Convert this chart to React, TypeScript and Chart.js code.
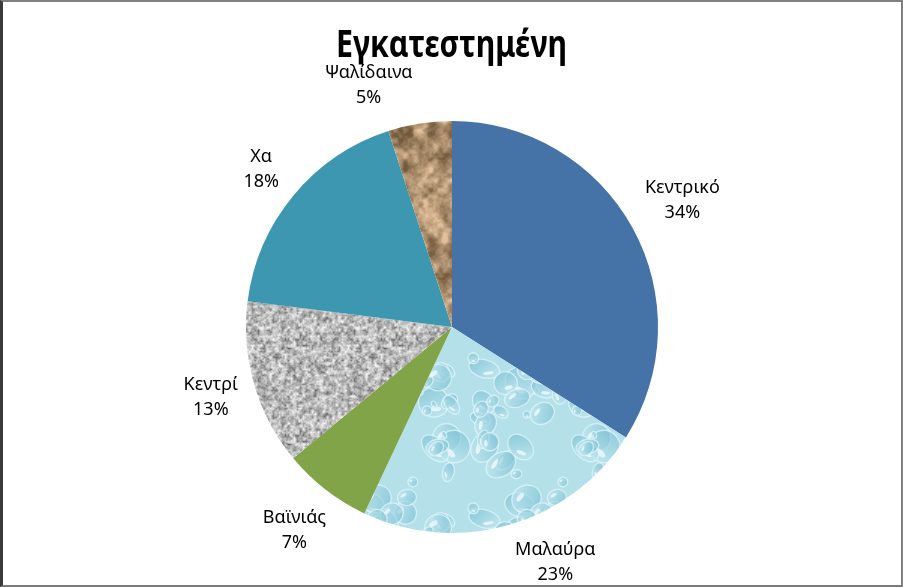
import React, { useEffect, useRef } from "react";
import { Chart, registerables } from "chart.js";

Chart.register(...registerables);

const categories = ["Κεντρικό", "Μαλαύρα", "Βαϊνιάς", "Κεντρί", "Χα", "Ψαλίδαινα"];
const shares = [34, 23, 7, 13, 18, 5];
const titleText = "Εγκατεστημένη";

const FONT = '"Noto Sans", "Open Sans", sans-serif';

function hash(x: number, y: number, s: number): number {
  let h = (Math.imul(x, 374761393) + Math.imul(y, 668265263) + Math.imul(s, 982451653)) | 0;
  h = Math.imul(h ^ (h >>> 13), 1274126177);
  h = h ^ (h >>> 16);
  return (h >>> 0) / 4294967295;
}

function valueNoise(x: number, y: number, cell: number, period: number, seed: number): number {
  const gx = x / cell;
  const gy = y / cell;
  const x0 = Math.floor(gx);
  const y0 = Math.floor(gy);
  const fx = gx - x0;
  const fy = gy - y0;
  const sx = fx * fx * (3 - 2 * fx);
  const sy = fy * fy * (3 - 2 * fy);
  const w = (v: number) => ((v % period) + period) % period;
  const a = hash(w(x0), w(y0), seed);
  const b = hash(w(x0 + 1), w(y0), seed);
  const c = hash(w(x0), w(y0 + 1), seed);
  const d = hash(w(x0 + 1), w(y0 + 1), seed);
  return (a * (1 - sx) + b * sx) * (1 - sy) + (c * (1 - sx) + d * sx) * sy;
}

function makeGranite(ctx: CanvasRenderingContext2D): CanvasPattern | string {
  const size = 96;
  const c = document.createElement("canvas");
  c.width = size;
  c.height = size;
  const g = c.getContext("2d");
  if (!g) return "#aaaaaa";
  const img = g.createImageData(size, size);
  for (let y = 0; y < size; y++) {
    for (let x = 0; x < size; x++) {
      const n1 = valueNoise(x, y, 3, size / 3, 11);
      const n2 = valueNoise(x, y, 1.5, size / 1.5, 17);
      let v = 0.6 * n1 + 0.4 * n2;
      v = 85 + Math.pow(v, 0.75) * 170;
      const i = (y * size + x) * 4;
      img.data[i] = v;
      img.data[i + 1] = v;
      img.data[i + 2] = v;
      img.data[i + 3] = 255;
    }
  }
  g.putImageData(img, 0, 0);
  return ctx.createPattern(c, "repeat") || "#aaaaaa";
}

function makePaper(ctx: CanvasRenderingContext2D): CanvasPattern | string {
  const size = 120;
  const c = document.createElement("canvas");
  c.width = size;
  c.height = size;
  const g = c.getContext("2d");
  if (!g) return "#b4976f";
  const img = g.createImageData(size, size);
  for (let y = 0; y < size; y++) {
    for (let x = 0; x < size; x++) {
      const n1 = valueNoise(x, y, 12, size / 12, 5);
      const n2 = valueNoise(x, y, 5, size / 5, 7);
      const n3 = valueNoise(x, y, 2, size / 2, 9);
      const v = 0.5 * n1 + 0.35 * n2 + 0.15 * n3;
      const t = Math.max(0, Math.min(1, (v - 0.2) / 0.6));
      const r = 115 + t * 110;
      const gg = 90 + t * 102;
      const b = 60 + t * 95;
      const i = (y * size + x) * 4;
      img.data[i] = r;
      img.data[i + 1] = gg;
      img.data[i + 2] = b;
      img.data[i + 3] = 255;
    }
  }
  g.putImageData(img, 0, 0);
  return ctx.createPattern(c, "repeat") || "#b4976f";
}

function makeWater(ctx: CanvasRenderingContext2D): CanvasPattern | string {
  const size = 150;
  const c = document.createElement("canvas");
  c.width = size;
  c.height = size;
  const g = c.getContext("2d");
  if (!g) return "#b0dde8";
  g.fillStyle = "#b4e0ea";
  g.fillRect(0, 0, size, size);
  const drops = 48;
  for (let k = 0; k < drops; k++) {
    const cx = hash(k, 1, 33) * size;
    const cy = hash(k, 2, 33) * size;
    const rx = 3 + hash(k, 3, 33) * 14;
    const ry = rx * (0.55 + hash(k, 4, 33) * 0.5);
    const rot = hash(k, 5, 33) * Math.PI;
    for (const ox of [-size, 0, size]) {
      for (const oy of [-size, 0, size]) {
        g.save();
        g.translate(cx + ox, cy + oy);
        g.rotate(rot);
        const grad = g.createLinearGradient(-rx, -ry, rx, ry);
        grad.addColorStop(0, "rgba(110,185,205,0.6)");
        grad.addColorStop(1, "rgba(205,238,245,0.7)");
        g.beginPath();
        g.ellipse(0, 0, rx, ry, 0, 0, Math.PI * 2);
        g.fillStyle = grad;
        g.fill();
        g.strokeStyle = "rgba(225,246,250,0.75)";
        g.lineWidth = 1.3;
        g.stroke();
        g.beginPath();
        g.ellipse(rx * 0.3, ry * 0.35, rx * 0.35, ry * 0.18, -0.4, 0, Math.PI * 2);
        g.fillStyle = "rgba(250,254,255,0.7)";
        g.fill();
        g.restore();
      }
    }
  }
  return ctx.createPattern(c, "repeat") || "#b0dde8";
}

const titlePlugin = {
  id: "customTitle",
  afterDraw(chart: any) {
    const ctx = chart.ctx as CanvasRenderingContext2D;
    ctx.save();
    ctx.font = `bold 37px ${FONT}`;
    ctx.fillStyle = "#000000";
    ctx.textAlign = "center";
    ctx.textBaseline = "alphabetic";
    ctx.translate(chart.width / 2, 57);
    ctx.scale(0.82, 1);
    ctx.fillText(titleText, 0, 0);
    ctx.restore();
  },
};

const labelPlugin = {
  id: "outsideLabels",
  afterDatasetsDraw(chart: any) {
    const ctx = chart.ctx as CanvasRenderingContext2D;
    const meta = chart.getDatasetMeta(0);
    const data: number[] = chart.data.datasets[0].data;
    const total = data.reduce((a, b) => a + b, 0);
    ctx.save();
    ctx.font = `18px ${FONT}`;
    ctx.fillStyle = "#000000";
    ctx.textAlign = "center";
    ctx.textBaseline = "middle";
    const lineGap = 25;
    const gap = 12;
    const topLimit = 60;
    const bottomLimit = chart.height + 1;
    meta.data.forEach((arc: any, i: number) => {
      const name = String(chart.data.labels[i]);
      const pct = `${Math.round((data[i] / total) * 100)}%`;
      const w = Math.max(ctx.measureText(name).width, ctx.measureText(pct).width);
      const h = lineGap * 2;
      const place = (ang: number) => {
        const cs = Math.cos(ang);
        const sn = Math.sin(ang);
        const dist = arc.outerRadius + gap + Math.abs(cs) * (w / 2) + Math.abs(sn) * (h / 2);
        return { x: arc.x + cs * dist, y: arc.y + sn * dist };
      };
      let ang = (arc.startAngle + arc.endAngle) / 2;
      let p = place(ang);
      let guard = 0;
      while (guard < 200 && (p.y - h / 2 < topLimit || p.y + h / 2 > bottomLimit)) {
        const cs = Math.cos(ang);
        const sn = Math.sin(ang);
        const step = (0.5 * Math.PI) / 180;
        ang += (cs >= 0 ? -1 : 1) * (sn < 0 ? -1 : 1) * step;
        p = place(ang);
        guard++;
      }
      ctx.fillText(name, p.x, p.y - lineGap / 2);
      ctx.fillText(pct, p.x, p.y + lineGap / 2);
    });
    ctx.restore();
  },
};

export default function App() {
  const ref = useRef<HTMLCanvasElement | null>(null);
  useEffect(() => {
    const canvas = ref.current;
    if (!canvas) return;
    const ctx = canvas.getContext("2d");
    if (!ctx) return;
    const colors = [
      "#4572a7",
      makeWater(ctx),
      "#80a447",
      makeGranite(ctx),
      "#3d97b0",
      makePaper(ctx),
    ];
    const chart = new Chart(canvas, {
      type: "pie",
      data: {
        labels: categories,
        datasets: [
          {
            data: shares,
            backgroundColor: colors as any,
            borderWidth: 0,
          },
        ],
      },
      options: {
        responsive: false,
        animation: false,
        layout: { padding: { left: 246, right: 245, top: 121, bottom: 54 } },
        plugins: {
          legend: { display: false },
          tooltip: { enabled: false },
          title: { display: false },
        },
      },
      plugins: [titlePlugin, labelPlugin],
    });
    return () => chart.destroy();
  }, []);

  return (
    <div style={{ position: "fixed", left: 0, top: 0, width: 903, height: 587, background: "#ffffff" }}>
      <canvas ref={ref} width={903} height={587} style={{ display: "block", width: 903, height: 587 }} />
      <div
        style={{
          position: "absolute",
          inset: 0,
          boxSizing: "border-box",
          borderTop: "2px solid #808080",
          borderLeft: "3px solid #3a3a3a",
          borderBottom: "2px solid #7a7a7a",
          borderRight: "2px solid #808080",
          pointerEvents: "none",
        }}
      />
    </div>
  );
}
